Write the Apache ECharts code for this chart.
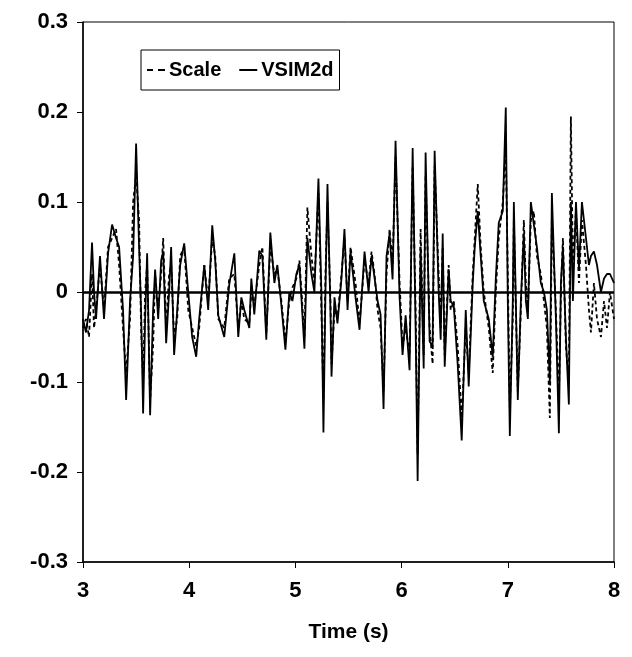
<!DOCTYPE html>
<html lang="en">
<head>
    <meta charset="UTF-8">
    <title>Scale vs VSIM2d</title>
    <script src="https://cdn.jsdelivr.net/npm/echarts@6/dist/echarts.min.js"></script>
</head>
<body style="margin:0;background:#fff">
<div id="main" style="width:632px;height:657px;"></div>

<script type="text/javascript">
// time (s) at each turning point
var times = [
    3.000,3.028,3.057,3.085,3.104,3.123,3.160,3.198,3.236,3.274,3.311,3.340,3.377,3.406,3.443,3.472,3.500,3.528,3.547,3.566,
    3.585,3.604,3.632,3.660,3.679,3.708,3.736,3.755,3.783,3.811,3.830,3.858,3.887,3.915,3.953,3.991,4.028,4.066,4.094,4.142,
    4.179,4.217,4.245,4.274,4.330,4.377,4.425,4.462,4.491,4.519,4.566,4.585,4.613,4.660,4.689,4.726,4.764,4.802,4.830,4.868,
    4.906,4.943,4.972,5.009,5.038,5.085,5.113,5.151,5.179,5.217,5.245,5.264,5.283,5.302,5.330,5.340,5.368,5.396,5.434,5.462,
    5.491,5.519,5.566,5.604,5.651,5.689,5.717,5.745,5.774,5.802,5.830,5.858,5.887,5.915,5.943,5.981,6.009,6.038,6.075,6.104,
    6.132,6.151,6.179,6.208,6.226,6.264,6.292,6.311,6.349,6.368,6.387,6.406,6.443,6.462,6.491,6.528,6.566,6.604,6.632,6.670,
    6.689,6.717,6.745,6.774,6.821,6.858,6.887,6.915,6.953,6.981,7.000,7.019,7.047,7.057,7.094,7.123,7.151,7.170,7.189,7.217,
    7.245,7.274,7.311,7.340,7.368,7.396,7.415,7.453,7.481,7.500,7.519,7.547,7.575,7.594,7.613,7.642,7.670,7.698,7.736,7.764,
    7.783,7.811,7.840,7.877,7.906,7.934,7.962,8.000
];

var vsim2d = [
    -0.03,-0.045,-0.02,0.055,0.0,-0.03,0.04,-0.03,0.043,0.075,0.06,0.05,-0.02,-0.12,-0.01,0.04,0.165,0.05,-0.02,-0.135,
    -0.03,0.043,-0.137,-0.02,0.025,-0.03,0.035,0.045,-0.057,0.0,0.05,-0.07,-0.02,0.03,0.054,0.0,-0.05,-0.072,-0.03,0.03,
    -0.02,0.074,0.035,-0.026,-0.05,0.008,0.043,-0.05,-0.006,-0.02,-0.04,0.015,-0.025,0.046,0.04,-0.053,0.066,0.01,0.03,-0.015,
    -0.064,0.0,-0.01,0.02,0.03,-0.063,0.06,0.02,0.0,0.126,0.0,-0.156,0.0,0.12,-0.02,-0.094,-0.006,-0.035,0.015,0.07,
    -0.02,0.045,-0.006,-0.042,0.045,0.0,0.04,0.016,-0.01,-0.025,-0.13,0.04,0.065,0.014,0.168,-0.006,-0.07,-0.026,-0.087,0.16,
    -0.04,-0.21,0.05,-0.085,0.155,-0.055,-0.06,0.157,0.0,-0.053,0.065,-0.083,0.025,-0.01,-0.015,-0.08,-0.165,-0.02,-0.105,0.01,
    0.05,0.09,0.04,-0.01,-0.03,-0.072,0.015,0.077,0.09,0.205,-0.01,-0.16,-0.01,0.1,-0.12,-0.01,0.065,-0.01,-0.03,0.1,
    0.075,0.05,0.01,0.0,-0.02,-0.1,0.11,-0.03,-0.157,0.01,0.05,-0.05,-0.125,0.1,-0.01,0.1,0.025,0.1,0.06,0.03,
    0.04,0.045,0.03,0.0,0.015,0.02,0.02,0.01
];

var scale = [
    -0.04,-0.03,-0.05,0.02,-0.04,-0.02,0.03,-0.02,0.05,0.06,0.07,0.03,-0.04,-0.09,-0.03,0.1,0.13,0.08,-0.04,-0.1,
    0.0,0.03,-0.12,-0.06,0.02,-0.02,0.02,0.06,-0.04,0.02,0.03,-0.05,-0.03,0.04,0.05,-0.02,-0.04,-0.06,-0.04,0.03,
    -0.01,0.06,0.04,-0.03,-0.04,0.015,0.02,-0.04,-0.01,-0.03,-0.035,0.0,-0.015,0.03,0.05,-0.045,0.05,0.02,0.025,-0.01,
    -0.055,-0.01,0.005,0.015,0.035,-0.05,0.094,0.04,0.01,0.11,-0.02,-0.12,0.02,0.1,-0.01,-0.08,-0.02,-0.03,0.02,0.06,
    -0.01,0.05,0.01,-0.035,0.035,0.01,0.045,0.02,-0.02,-0.04,-0.11,0.02,0.07,0.03,0.15,0.01,-0.06,-0.04,-0.07,0.14,
    -0.02,-0.18,0.07,-0.07,0.13,-0.04,-0.08,0.14,0.02,-0.04,0.05,-0.07,0.03,-0.02,-0.01,-0.06,-0.14,-0.04,-0.09,0.02,
    0.06,0.12,0.05,0.0,-0.04,-0.09,0.0,0.06,0.1,0.16,0.02,-0.13,-0.03,0.08,-0.11,-0.02,0.08,0.01,-0.02,0.08,
    0.09,0.04,0.02,-0.01,-0.04,-0.14,0.08,-0.02,-0.12,0.0,0.06,-0.06,-0.1,0.195,0.03,0.09,0.01,0.08,0.03,-0.02,
    -0.045,0.01,-0.03,-0.05,-0.01,-0.04,0.0,-0.03
];

var xTicks = [3, 4, 5, 6, 7, 8];
var yTicks = [-0.3, -0.2, -0.1, 0, 0.1, 0.2, 0.3];

function pairs(vals) {
    var out = [];
    for (var i = 0; i < times.length; i++) {
        out.push([times[i], vals[i]]);
    }
    return out;
}

var font = "'Liberation Sans', Arial, sans-serif";
var myChart = echarts.init(document.getElementById('main'));

var option = {
    animation: false,
    backgroundColor: '#fff',
    grid: {
        left: 83, right: 18, top: 22, bottom: 95,
        show: true, borderColor: '#000', borderWidth: 1
    },
    legend: {
        left: 141, top: 50,
        orient: 'horizontal',
        backgroundColor: '#fff',
        borderColor: '#000', borderWidth: 1,
        padding: [10, 6, 10, 6],
        itemGap: 18, itemWidth: 18, itemHeight: 2,
        textStyle: {fontFamily: font, fontSize: 20, fontWeight: 'bold', color: '#000', padding: [0, 0, 0, -1]},
        data: [
            {name: 'Scale', icon: 'path://M0,0h6v2h-6zM11,0h7v2h-7z'},
            {name: 'VSIM2d', icon: 'path://M0,0h18v2h-18z'}
        ]
    },
    xAxis: {
        type: 'value',
        min: xTicks[0], max: xTicks[xTicks.length - 1], interval: 1,
        name: 'Time (s)', nameLocation: 'middle', nameGap: 60,
        nameTextStyle: {fontFamily: font, fontSize: 21, fontWeight: 'bold', color: '#000'},
        axisLine: {onZero: false, lineStyle: {color: '#000', width: 1.5}},
        axisTick: {show: true, inside: false, length: 6, lineStyle: {color: '#000'}},
        axisLabel: {fontFamily: font, fontSize: 22, fontWeight: 'bold', color: '#000', margin: 18},
        splitLine: {show: false}
    },
    yAxis: {
        type: 'value',
        min: yTicks[0], max: yTicks[yTicks.length - 1], interval: 0.1,
        axisLine: {show: true, onZero: false, lineStyle: {color: '#000', width: 1.5}},
        axisTick: {show: true, inside: false, length: 6, lineStyle: {color: '#000'}},
        axisLabel: {
            fontFamily: font, fontSize: 22, fontWeight: 'bold', color: '#000', margin: 15,
            formatter: function (v) { return Math.abs(v) < 1e-9 ? '0' : v.toFixed(1); }
        },
        splitLine: {show: false}
    },
    series: [
        {
            name: 'Scale',
            type: 'line',
            data: pairs(scale),
            showSymbol: false, symbol: 'none',
            lineStyle: {color: '#000', width: 1.8, type: [4, 3]},
            itemStyle: {color: '#000'}
        },
        {
            name: 'VSIM2d',
            type: 'line',
            data: pairs(vsim2d),
            showSymbol: false, symbol: 'none',
            lineStyle: {color: '#000', width: 1.8, type: 'solid'},
            itemStyle: {color: '#000'},
            markLine: {
                silent: true,
                symbol: ['none', 'none'],
                label: {show: false},
                lineStyle: {color: '#000', width: 2.5, type: 'solid'},
                data: [{yAxis: 0}]
            }
        }
    ]
};
myChart.setOption(option);
</script>
</body>
</html>
